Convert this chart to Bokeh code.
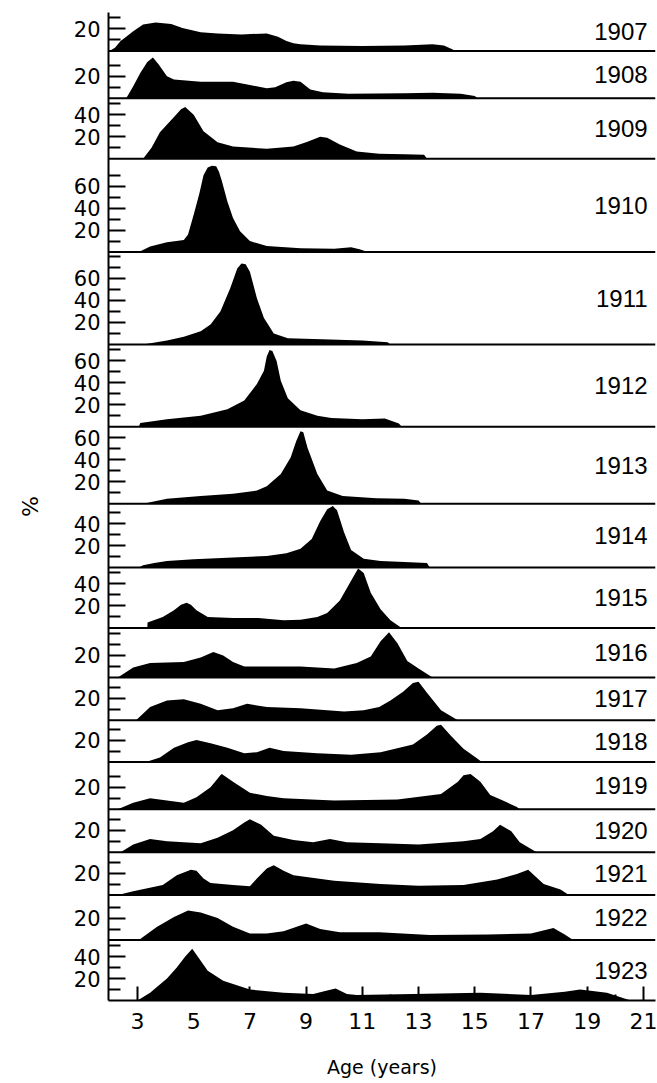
from bokeh.plotting import figure
from bokeh.models import Range1d, FixedTicker, ColumnDataSource
from bokeh.embed import file_html
from bokeh.resources import INLINE
from bokeh.core.properties import value

# ---------------- data ----------------
years = [1907, 1908, 1909, 1910, 1911, 1912, 1913, 1914, 1915,
         1916, 1917, 1918, 1919, 1920, 1921, 1922, 1923]

# upper limit (in %) of each panel's own y scale
panel_ymax = [35, 43, 55, 85, 84, 75, 70, 58, 55, 45, 39, 38, 43, 39, 39, 41, 55]
# highest tick (in %) drawn on each panel's scale, and highest labelled tick
tick_max = [30, 30, 50, 70, 80, 70, 60, 50, 50, 40, 30, 30, 30, 30, 30, 30, 50]
label_max = [20, 20, 40, 60, 60, 60, 60, 40, 40, 20, 20, 20, 20, 20, 20, 20, 40]
labeled_ticks = [20, 40, 60]

x_major_ticks = [3, 5, 7, 9, 11, 13, 15, 17, 19, 21]
x_minor_ticks = [4, 6, 8, 10, 12, 14, 16, 18, 20]

age_1907 = [2.0, 2.2, 2.4, 2.6, 2.85, 3.2, 3.65, 4.2, 4.6, 5.25, 5.85, 6.7, 7.6, 8.0, 8.3, 8.55, 8.8, 9.5, 11.0, 12.5, 13.5, 13.9, 14.2, 14.3]
pct_1907 = [0, 3, 9, 13, 18, 24, 26, 24.5, 21, 17, 16, 15, 16, 13, 9, 7, 6, 5, 4.5, 5, 6, 5, 1.5, 0]

age_1908 = [2.6, 2.85, 3.1, 3.35, 3.55, 3.75, 4.05, 4.3, 5.25, 6.4, 7.0, 7.6, 7.9, 8.3, 8.55, 8.8, 9.15, 9.6, 10.5, 12.5, 13.5, 14.5, 15.0, 15.1]
pct_1908 = [0, 11, 23, 33, 37, 31, 20, 17, 15, 15, 12, 9, 10, 14.5, 16, 15, 8, 5.5, 4, 4.5, 5, 4, 2, 0]

age_1909 = [3.2, 3.5, 3.8, 4.3, 4.55, 4.7, 5.0, 5.35, 5.85, 6.4, 7.6, 8.55, 9.05, 9.5, 9.75, 10.2, 10.8, 11.6, 12.5, 13.2, 13.3]
pct_1909 = [0, 10, 24, 38, 45, 47, 40, 25, 15, 11, 9, 11, 15.5, 20, 19, 13, 6.5, 4.5, 4, 3.5, 0]

age_1910 = [3.05, 3.45, 4.05, 4.65, 4.8, 5.0, 5.2, 5.35, 5.5, 5.65, 5.8, 5.9, 6.0, 6.2, 6.4, 6.65, 7.0, 7.6, 8.8, 10.0, 10.6, 10.9, 11.2]
pct_1910 = [0, 5, 9, 11, 16, 34, 53, 70, 77, 78.5, 78, 73, 65, 46, 31, 19, 10, 5.5, 3.5, 3, 4.5, 2.5, 0]

age_1911 = [3.2, 4.05, 4.65, 5.25, 5.6, 5.95, 6.3, 6.55, 6.7, 6.85, 7.0, 7.25, 7.5, 7.85, 8.35, 9.85, 11.0, 11.9, 12.0]
pct_1911 = [0, 3.5, 7, 12, 18, 30, 51, 69, 73.5, 73, 66, 42, 24, 10, 5.5, 4.5, 3.5, 2, 0]

age_1912 = [3.05, 3.1, 4.05, 5.25, 6.2, 6.8, 7.25, 7.5, 7.6, 7.7, 7.8, 7.95, 8.1, 8.35, 8.8, 9.4, 9.9, 11.0, 11.8, 12.3, 12.4]
pct_1912 = [0, 3.5, 7, 10, 16, 24, 39, 51, 64, 70, 69, 60, 42, 26, 15, 10, 8, 7, 7.5, 3, 0]

age_1913 = [3.2, 4.05, 5.25, 6.4, 7.25, 7.6, 8.1, 8.45, 8.65, 8.8, 8.9, 9.05, 9.4, 9.75, 10.3, 11.5, 12.5, 13.0, 13.1]
pct_1913 = [0, 4.5, 7, 9, 12, 16, 27, 42, 57, 66, 65, 51, 27, 12, 7, 5, 4.5, 3, 0]

age_1914 = [3.05, 3.2, 3.6, 4.05, 5.0, 6.4, 7.6, 8.3, 8.8, 9.2, 9.5, 9.75, 9.95, 10.1, 10.35, 10.6, 11.05, 11.65, 12.5, 13.3, 13.4]
pct_1914 = [0, 2, 4, 6, 7.5, 9, 10.5, 13, 17, 26, 42, 53, 56, 52, 32, 16, 8, 6, 5, 4, 0]

age_1915 = [3.35, 3.36, 3.9, 4.3, 4.55, 4.75, 4.9, 5.1, 5.5, 6.4, 7.3, 8.2, 8.8, 9.4, 9.75, 10.2, 10.6, 10.85, 11.05, 11.3, 11.65, 12.0, 12.4]
pct_1915 = [0, 5, 10, 16, 21, 23, 21, 16, 10, 9, 9, 7, 7.5, 10, 13.5, 25, 43, 54, 50, 32, 17, 7, 0]

age_1916 = [2.3, 2.85, 3.45, 4.65, 5.25, 5.7, 6.05, 6.4, 6.8, 7.6, 8.8, 10.0, 10.8, 11.3, 11.65, 11.95, 12.25, 12.6, 13.0, 13.5]
pct_1916 = [0, 9, 13, 14, 18, 23, 20, 14, 10, 10, 10, 8, 13, 19, 33, 41, 31, 15, 8, 0]

age_1917 = [2.95, 3.45, 4.05, 4.65, 5.25, 5.85, 6.4, 6.9, 7.6, 8.8, 10.35, 11.05, 11.6, 12.0, 12.45, 12.8, 13.0, 13.3, 13.8, 14.4]
pct_1917 = [0, 12, 18, 19, 15, 9, 11, 15, 12, 11, 8, 9, 12, 18, 26, 34, 35, 25, 9, 0]

age_1918 = [3.3, 3.8, 4.3, 4.8, 5.1, 5.6, 6.2, 6.8, 7.25, 7.7, 8.2, 9.4, 10.6, 11.65, 12.8, 13.3, 13.65, 13.8, 14.15, 14.6, 15.1, 15.25]
pct_1918 = [0, 4, 13, 18, 20, 17, 13, 8, 9, 13, 10, 8, 6.5, 9, 16, 25, 33, 34, 24, 12, 3, 0]

age_1919 = [2.3, 2.85, 3.45, 4.05, 4.65, 5.1, 5.6, 5.95, 6.0, 6.4, 7.0, 7.6, 8.2, 10.0, 12.25, 13.8, 14.4, 14.6, 14.85, 15.2, 15.55, 16.0, 16.5, 16.6]
pct_1919 = [0, 6, 10, 8, 6, 11, 20, 31, 32, 25, 15, 12, 10, 8, 9, 14, 25, 31, 32, 25, 13, 8, 2, 0]

age_1920 = [2.4, 2.85, 3.45, 4.05, 5.25, 5.85, 6.4, 6.8, 7.0, 7.4, 7.85, 8.55, 9.25, 9.85, 10.45, 11.65, 13.0, 14.6, 15.2, 15.65, 15.9, 16.3, 16.6, 17.2]
pct_1920 = [0, 7, 12, 10, 8, 13, 20, 27, 30, 25, 15, 11, 9, 12, 9, 8, 7, 10, 12, 19, 25, 19, 9, 0]

age_1921 = [2.3, 2.85, 3.9, 4.4, 4.9, 5.1, 5.35, 5.6, 6.4, 7.0, 7.25, 7.6, 7.85, 8.2, 8.55, 10.0, 11.65, 13.0, 14.6, 15.8, 16.5, 16.9, 17.45, 18.05, 18.35]
pct_1921 = [0, 3.5, 9, 18, 23, 22, 15, 11, 9, 8, 15, 24, 27, 22, 18, 13, 10, 8.5, 9, 14, 19, 23, 10, 5, 0]

age_1922 = [3.05, 3.7, 4.3, 4.8, 5.25, 5.85, 6.4, 7.0, 7.6, 8.2, 9.0, 9.5, 10.2, 11.6, 13.4, 15.5, 17.0, 17.8, 18.2, 18.5]
pct_1922 = [0, 12, 21, 27, 25, 20, 12, 6, 6, 8, 15, 10, 7, 7, 4.5, 5, 6, 11, 5, 0]

age_1923 = [3.0, 3.45, 4.05, 4.4, 4.7, 4.95, 5.2, 5.5, 6.05, 7.0, 8.2, 9.25, 9.75, 10.05, 10.45, 10.8, 12.8, 15.2, 17.0, 18.2, 18.75, 19.7, 20.3, 20.55]
pct_1923 = [0, 7, 20, 30, 40, 47, 38, 27, 18, 10, 7, 6, 9, 11, 6, 5, 6, 7, 5, 8, 10, 7, 2, 0]

ages = [age_1907, age_1908, age_1909, age_1910, age_1911, age_1912, age_1913, age_1914, age_1915,
        age_1916, age_1917, age_1918, age_1919, age_1920, age_1921, age_1922, age_1923]
pcts = [pct_1907, pct_1908, pct_1909, pct_1910, pct_1911, pct_1912, pct_1913, pct_1914, pct_1915,
        pct_1916, pct_1917, pct_1918, pct_1919, pct_1920, pct_1921, pct_1922, pct_1923]

# ---------------- layout ----------------
X_START, X_END = 1.97, 21.43
n = len(years)
offsets = [sum(panel_ymax[i + 1:]) for i in range(n)]
Y_TOTAL = sum(panel_ymax)

p = figure(width=657, height=1083,
           x_range=Range1d(X_START, X_END), y_range=Range1d(0, Y_TOTAL),
           output_backend="svg", toolbar_location=None,
           min_border_left=108, min_border_right=2,
           min_border_top=12, min_border_bottom=83)
p.outline_line_color = None
p.xgrid.visible = False
p.ygrid.visible = False
p.background_fill_color = "white"
p.border_fill_color = "white"

# filled curves
for i in range(n):
    off = offsets[i]
    src = ColumnDataSource(dict(x=ages[i],
                                y1=[off] * len(ages[i]),
                                y2=[off + v for v in pcts[i]]))
    p.varea(x="x", y1="y1", y2="y2", source=src, fill_color="black")

# panel baselines
p.segment(x0=[X_START] * (n - 1), x1=[X_END] * (n - 1),
          y0=offsets[:-1], y1=offsets[:-1],
          line_color="black", line_width=2)

# year labels
p.text(x=[X_END - 0.28] * n,
       y=[offsets[i] + panel_ymax[i] / 2 for i in range(n)],
       text=[str(y) for y in years],
       text_align="right", text_baseline="middle",
       text_font=value("Liberation Sans"), text_font_size="24px",
       text_color="black")

# y axis: per-panel ticks
y_major, y_minor, overrides = [], [], {}
for i in range(n):
    off = offsets[i]
    for v in range(10, tick_max[i] + 1, 10):
        if v in labeled_ticks and v <= label_max[i]:
            y_major.append(off + v)
            overrides[off + v] = str(v)
        else:
            y_minor.append(off + v)

ya = p.yaxis[0]
ya.ticker = FixedTicker(ticks=y_major, minor_ticks=y_minor)
ya.major_label_overrides = overrides
ya.major_tick_in = 17
ya.major_tick_out = 0
ya.minor_tick_in = 12
ya.minor_tick_out = 0
ya.major_tick_line_width = 2
ya.minor_tick_line_width = 2
ya.axis_line_width = 2
ya.major_label_standoff = 8
ya.major_label_text_font = "DejaVu Sans"
ya.major_label_text_font_size = "21px"
ya.major_label_text_color = "black"
ya.axis_label = "%"
ya.axis_label_text_font = "DejaVu Sans"
ya.axis_label_text_font_size = "22px"
ya.axis_label_text_font_style = "normal"
ya.axis_label_text_color = "black"
ya.axis_label_standoff = 28

xa = p.xaxis[0]
xa.ticker = FixedTicker(ticks=x_major_ticks, minor_ticks=x_minor_ticks)
xa.major_tick_in = 14
xa.major_tick_out = 0
xa.minor_tick_in = 6
xa.minor_tick_out = 0
xa.major_tick_line_width = 2
xa.minor_tick_line_width = 2
xa.axis_line_width = 2
xa.major_label_standoff = 12
xa.major_label_text_font = "DejaVu Sans"
xa.major_label_text_font_size = "22px"
xa.major_label_text_color = "black"
xa.axis_label = "Age (years)"
xa.axis_label_text_font = "DejaVu Sans"
xa.axis_label_text_font_size = "19px"
xa.axis_label_text_font_style = "normal"
xa.axis_label_text_color = "black"
xa.axis_label_standoff = 24

open("out.html", "w").write(file_html(p, INLINE))
